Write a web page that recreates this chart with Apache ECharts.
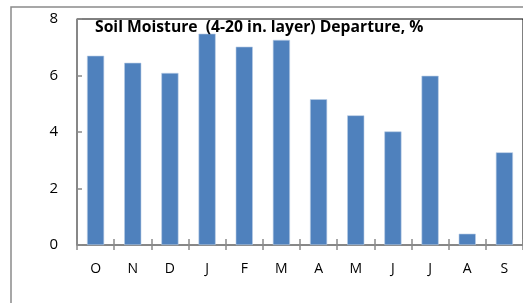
<!DOCTYPE html>
<html>
<head>
<meta charset="utf-8">
<script src="https://cdn.jsdelivr.net/npm/echarts@6/dist/echarts.min.js"></script>
<style>
  html, body { margin: 0; padding: 0; background: #fff; }
  #chart { width: 523px; height: 303px; }
</style>
</head>
<body>
<div id="chart"></div>
<script>
// months from October to September
const months = ['O', 'N', 'D', 'J', 'F', 'M', 'A', 'M', 'J', 'J', 'A', 'S'];
const departure = [6.70, 6.45, 6.09, 7.48, 7.02, 7.26, 5.16, 4.59, 4.02, 5.99, 0.40, 3.28];
const yTicks = [0, 2, 4, 6, 8];

const titleText = 'Soil Moisture  (4-20 in. layer) Departure, %';
const font = 'Open Sans';

let myChart = echarts.init(document.getElementById('chart'));

let option = {
    animation: false,
    title: {
        text: titleText,
        left: 95,
        top: 20,
        padding: 0,
        textStyle: { fontFamily: font, fontSize: 15.7, fontWeight: 'bold', color: '#000' }
    },
    graphic: [
        {
            // outer chart frame
            type: 'rect',
            shape: { x: 11, y: 7, width: 530, height: 310 },
            style: { fill: 'none', stroke: '#8a8a8a', lineWidth: 1.5 },
            silent: true
        }
    ],
    grid: {
        left: 77,
        top: 19,
        right: -2,
        bottom: 58,
        show: true,
        borderColor: '#000',
        borderWidth: 1
    },
    xAxis: [
        {
            type: 'category',
            data: months,
            axisLine: { lineStyle: { color: '#8a8a8a', width: 1.5 } },
            axisTick: { show: true, length: 5, lineStyle: { color: '#8a8a8a', width: 1.5 } },
            axisLabel: { color: '#000', fontFamily: font, fontSize: 14, margin: 17 }
        },
        {
            // second copy only for the inner half of the cross ticks
            type: 'category',
            data: months,
            position: 'bottom',
            axisLine: { show: false },
            axisTick: { show: true, inside: true, length: 6, lineStyle: { color: '#8a8a8a', width: 1.5 } },
            axisLabel: { show: false }
        }
    ],
    yAxis: {
        type: 'value',
        min: yTicks[0],
        max: yTicks[yTicks.length - 1],
        interval: 2,
        splitLine: { show: false },
        axisLine: { show: true, lineStyle: { color: '#8a8a8a', width: 1.5 } },
        axisTick: { show: true, inside: true, length: 5, lineStyle: { color: '#8a8a8a', width: 1.5 } },
        axisLabel: { color: '#000', fontFamily: font, fontSize: 15, margin: 19 }
    },
    series: [
        {
            type: 'bar',
            data: departure,
            barWidth: '46%',
            itemStyle: { color: '#4f81bd', borderColor: '#b9cde5', borderWidth: 0.6 }
        }
    ]
};

myChart.setOption(option);
</script>
</body>
</html>
